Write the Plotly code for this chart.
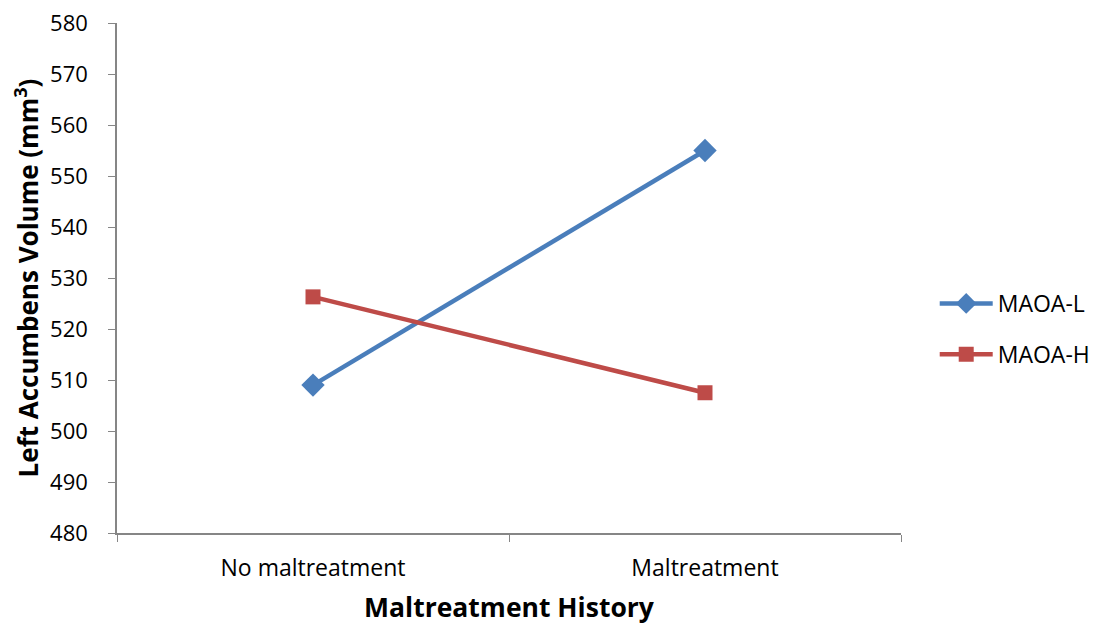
import plotly.graph_objects as go

categories = ["No maltreatment", "Maltreatment"]
maoa_l = [509.0, 555.0]
maoa_h = [526.3, 507.5]
y_ticks = list(range(480, 581, 10))

font = "Open Sans, Liberation Sans, sans-serif"
axis_color = "#868686"

fig = go.Figure()
fig.add_trace(go.Scatter(
    x=categories, y=maoa_l, name="MAOA-L", mode="lines+markers", legendgroup="l",
    line=dict(color="#4A7EBB", width=4.5),
    marker=dict(symbol="diamond", size=18, color="#4A7EBB"),
))
fig.add_trace(go.Scatter(
    x=categories, y=maoa_h, name="MAOA-H", mode="lines+markers", legendgroup="h",
    line=dict(color="#BE4B48", width=4.5),
    marker=dict(symbol="square", size=15, color="#BE4B48"),
))

fig.update_layout(
    width=1098, height=627,
    margin=dict(l=109, r=205, t=15, b=102, autoexpand=False),
    paper_bgcolor="white", plot_bgcolor="white",
    font=dict(family=font, size=22, color="black"),
    showlegend=True,
    legend=dict(x=1.043, y=0.40, xanchor="left", yanchor="middle",
                font=dict(size=23), traceorder="grouped", tracegroupgap=18, itemwidth=53),
    xaxis=dict(
        type="category", range=[-0.5, 1.5], automargin=False,
        showline=True, linecolor=axis_color, linewidth=1.5,
        ticks="outside", tickson="boundaries", ticklen=7, tickcolor=axis_color,
        tickfont=dict(size=23), ticklabelstandoff=14, ticklabeloverflow="allow",
        showgrid=False, zeroline=False,
        title=dict(text="<b>Maltreatment History</b>", font=dict(size=26.5), standoff=16),
    ),
    yaxis=dict(
        range=[480, 580], tickvals=y_ticks, automargin=False,
        showline=True, linecolor=axis_color, linewidth=1.5,
        ticks="outside", ticklen=7, tickcolor=axis_color,
        tickfont=dict(size=22), ticklabelstandoff=16, ticklabeloverflow="allow",
        showgrid=False, zeroline=False,
        title=dict(text="<b>Left Accumbens Volume (mm<sup>3</sup>)</b>", font=dict(size=26), standoff=10),
    ),
)

fig.write_html("out.html")
